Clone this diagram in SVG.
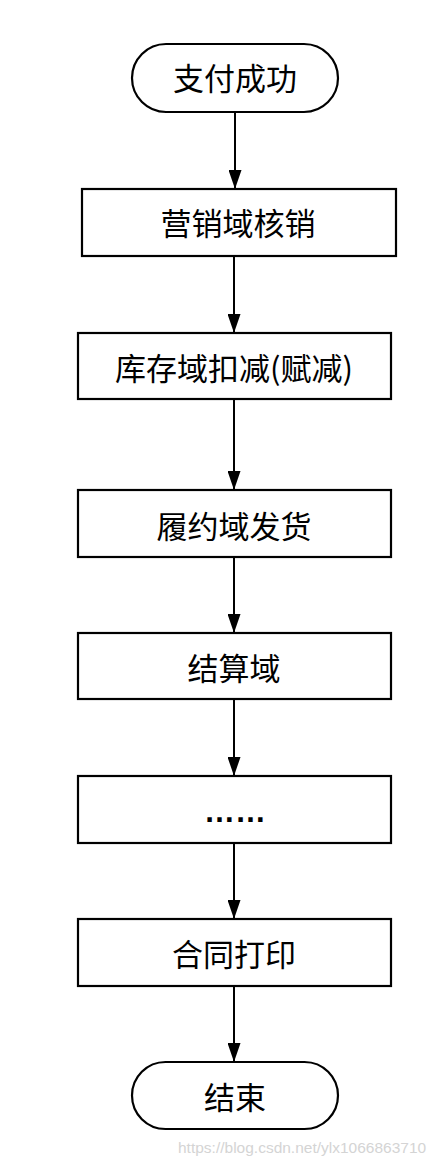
<svg xmlns="http://www.w3.org/2000/svg" width="442" height="1166" viewBox="0 0 442 1166">
<defs>
<marker id="ah" markerWidth="19" markerHeight="13" refX="19" refY="6.5" orient="auto" markerUnits="userSpaceOnUse" viewBox="0 0 19 13">
<path d="M0,0 L19,6.5 L0,13 Z" fill="#000"/>
</marker>
</defs>
<style>
.shape{fill:#fff;stroke:#000;stroke-width:2.2}
.lbl{font-family:"Noto Sans CJK SC","Noto Sans",sans-serif;font-size:31px;fill:#000;text-anchor:middle}
.edge{stroke:#000;stroke-width:2;fill:none;marker-end:url(#ah)}
.wm{font-family:"Liberation Sans",Arial,sans-serif;font-size:15.5px;fill:#d4d4d4}
</style>
<rect width="442" height="1166" fill="#fff"/>
<g id="connectors">
<path class="edge" d="M235,112 L235,189"/>
<path class="edge" d="M234,256 L234,333"/>
<path class="edge" d="M234,399 L234,490"/>
<path class="edge" d="M234,557 L234,633"/>
<path class="edge" d="M234,699 L234,776"/>
<path class="edge" d="M234,843 L234,919"/>
<path class="edge" d="M234,986 L234,1062"/>
</g>
<g id="start">
<rect class="shape" x="132" y="44" width="206" height="68" rx="34" ry="34"/>
<text class="lbl" x="235" y="90">支付成功</text>
</g>
<g id="marketing">
<rect class="shape" x="82" y="189" width="314" height="67"/>
<text class="lbl" x="238" y="235">营销域核销</text>
</g>
<g id="inventory">
<rect class="shape" x="78" y="333" width="313" height="66"/>
<text class="lbl" x="234" y="380">库存域扣减(赋减)</text>
</g>
<g id="fulfillment">
<rect class="shape" x="78" y="490" width="313" height="67"/>
<text class="lbl" x="234" y="538">履约域发货</text>
</g>
<g id="settlement">
<rect class="shape" x="78" y="633" width="313" height="66"/>
<text class="lbl" x="234" y="680">结算域</text>
</g>
<g id="more">
<rect class="shape" x="78" y="776" width="313" height="67"/>
<text class="lbl" x="235" y="822" style="font-family:'Liberation Sans',Arial,sans-serif;font-weight:bold">……</text>
</g>
<g id="contract">
<rect class="shape" x="78" y="919" width="313" height="67"/>
<text class="lbl" x="234" y="966">合同打印</text>
</g>
<g id="end">
<rect class="shape" x="132" y="1062" width="206" height="67" rx="33.5" ry="33.5"/>
<text class="lbl" x="235" y="1109">结束</text>
</g>
<text class="wm" x="178" y="1153">https://blog.csdn.net/ylx1066863710</text>
</svg>
